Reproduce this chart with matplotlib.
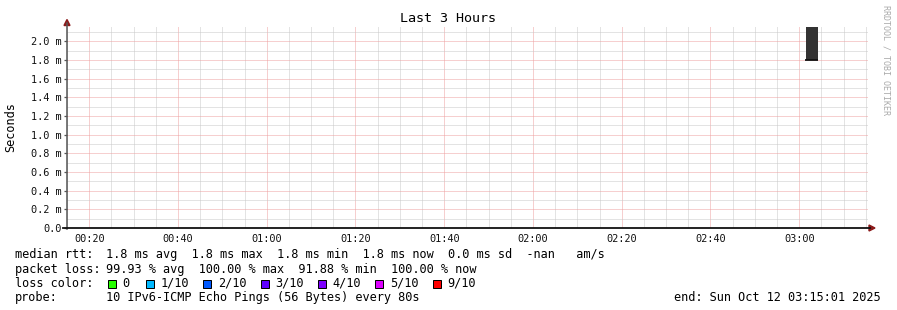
import matplotlib
matplotlib.use("Agg")
import matplotlib.pyplot as plt
import matplotlib.ticker as ticker
from matplotlib.patches import Rectangle, Polygon
from matplotlib.lines import Line2D

W, H = 897, 310
plt.rcParams["font.family"] = ["DejaVu Sans Mono"]

# === Data ===
# times are minutes after midnight, rtt values in ms
x_range = (15.0, 195.5)
y_max = 2.155
smoke_time = [181.45, 184.25]
smoke_lo = [1.8, 1.8]
smoke_hi = [2.2, 2.2]
median_time = [181.2, 184.25]
median_rtt = [1.8, 1.8]

x_tick_minutes = [20, 40, 60, 80, 100, 120, 140, 160, 180]
x_tick_labels = ["00:20", "00:40", "01:00", "01:20", "01:40",
                 "02:00", "02:20", "02:40", "03:00"]
y_tick_values = [0.0, 0.2, 0.4, 0.6, 0.8, 1.0, 1.2, 1.4, 1.6, 1.8, 2.0]
y_tick_labels = ["0.0", "0.2 m", "0.4 m", "0.6 m", "0.8 m", "1.0 m",
                 "1.2 m", "1.4 m", "1.6 m", "1.8 m", "2.0 m"]

loss_labels = ["0", "1/10", "2/10", "3/10", "4/10", "5/10", "9/10"]
loss_colors = ["#26ff00", "#00b8ff", "#0059ff", "#5e00ff",
               "#7e00ff", "#dd00ff", "#ff0000"]

rtt_stats = "1.8 ms avg  1.8 ms max  1.8 ms min  1.8 ms now  0.0 ms sd  -nan   am/s"
loss_stats = "99.93 % avg  100.00 % max  91.88 % min  100.00 % now"
probe_text = "10 IPv6-ICMP Echo Pings (56 Bytes) every 80s"
end_text = "end: Sun Oct 12 03:15:01 2025"


def fx(x):
    return x / W


def fy(y):
    return 1 - y / H


# === Graphing ===
fig = plt.figure(figsize=(W / 100, H / 100), dpi=100, facecolor="white")
ax = fig.add_axes([fx(67), fy(228), 801 / W, 201 / H])
ax.set_facecolor("white")

ax.fill_between(smoke_time, smoke_lo, smoke_hi, color="#333333", lw=0, zorder=3)
ax.plot(median_time, median_rtt, color="#111111", lw=1.3, zorder=4,
        solid_capstyle="butt")

ax.set_xlim(*x_range)
ax.set_ylim(0, y_max)

ax.set_xticks(x_tick_minutes)
ax.set_xticklabels(x_tick_labels)
ax.set_yticks(y_tick_values)
ax.set_yticklabels(y_tick_labels)

# minor grid every 5 min / 0.1 ms, skipping the major positions
minor_x = [m for m in range(15, 200, 5) if m % 20 != 0]
minor_y = [i / 10 for i in range(1, 22, 2)]
ax.xaxis.set_minor_locator(ticker.FixedLocator(minor_x))
ax.yaxis.set_minor_locator(ticker.FixedLocator(minor_y))

ax.grid(which="minor", color="#c8c8c8", linestyle=(0, (1, 1)), linewidth=0.72)
ax.grid(which="major", color="#eea0a0", linestyle=(0, (1, 1)), linewidth=0.72)
ax.set_axisbelow(True)

for side in ["top", "right", "left", "bottom"]:
    ax.spines[side].set_visible(False)

ax.tick_params(which="minor", length=0)
ax.tick_params(axis="x", which="major", length=0, pad=4.2,
               labelsize=7.4, labelcolor="#111111")
ax.tick_params(axis="y", which="major", length=2.2, width=0.9, color="#555555",
               pad=1.6, labelsize=7.4, labelcolor="#111111")

# axis lines with arrows
fig.add_artist(Line2D([fx(67), fx(67)], [fy(229), fy(23)], color="#555555",
                      lw=1.1, transform=fig.transFigure))
fig.add_artist(Line2D([fx(63), fx(870)], [fy(228), fy(228)], color="#111111",
                      lw=1.3, transform=fig.transFigure))
fig.add_artist(Polygon([(fx(64), fy(25.5)), (fx(70), fy(25.5)), (fx(67), fy(19.5))],
                       closed=True, color="#8b1a1a", transform=fig.transFigure))
fig.add_artist(Polygon([(fx(869), fy(225)), (fx(869), fy(231)), (fx(875), fy(228))],
                       closed=True, color="#8b1a1a", transform=fig.transFigure))

# titles
fig.text(fx(448), fy(19), "Last 3 Hours", ha="center", va="center", fontsize=9.6)
fig.text(fx(11), fy(127), "Seconds", ha="center", va="center", rotation=90,
         fontsize=8.6)
fig.text(fx(886), fy(60), "RRDTOOL / TOBI OETIKER", ha="center", va="center",
         rotation=270, fontsize=6, color="#aaaaaa")

# legend rows
rows_y = [254.5, 269, 283.5, 297.5]
fs = 8.6
fig.text(fx(15), fy(rows_y[0]), "median rtt:", va="center", fontsize=fs)
fig.text(fx(106), fy(rows_y[0]), rtt_stats, va="center", fontsize=fs)
fig.text(fx(15), fy(rows_y[1]), "packet loss:", va="center", fontsize=fs)
fig.text(fx(106), fy(rows_y[1]), loss_stats, va="center", fontsize=fs)
fig.text(fx(15), fy(rows_y[2]), "loss color:", va="center", fontsize=fs)
fig.text(fx(15), fy(rows_y[3]), "probe:", va="center", fontsize=fs)
fig.text(fx(106), fy(rows_y[3]), probe_text, va="center", fontsize=fs)
fig.text(fx(881), fy(rows_y[3]), end_text, va="center", ha="right", fontsize=fs)

for i, (lab, col) in enumerate(zip(loss_labels, loss_colors)):
    bx = 108 if i == 0 else 146 + 57.3 * (i - 1)
    fig.add_artist(Rectangle((fx(bx), fy(288)), 8 / W, 8.5 / H, facecolor=col,
                             edgecolor="black", lw=0.72, transform=fig.transFigure))
    fig.text(fx(bx + 14.5), fy(rows_y[2]), lab, va="center", fontsize=fs)

fig.savefig("out.png", dpi=100, facecolor="white")
